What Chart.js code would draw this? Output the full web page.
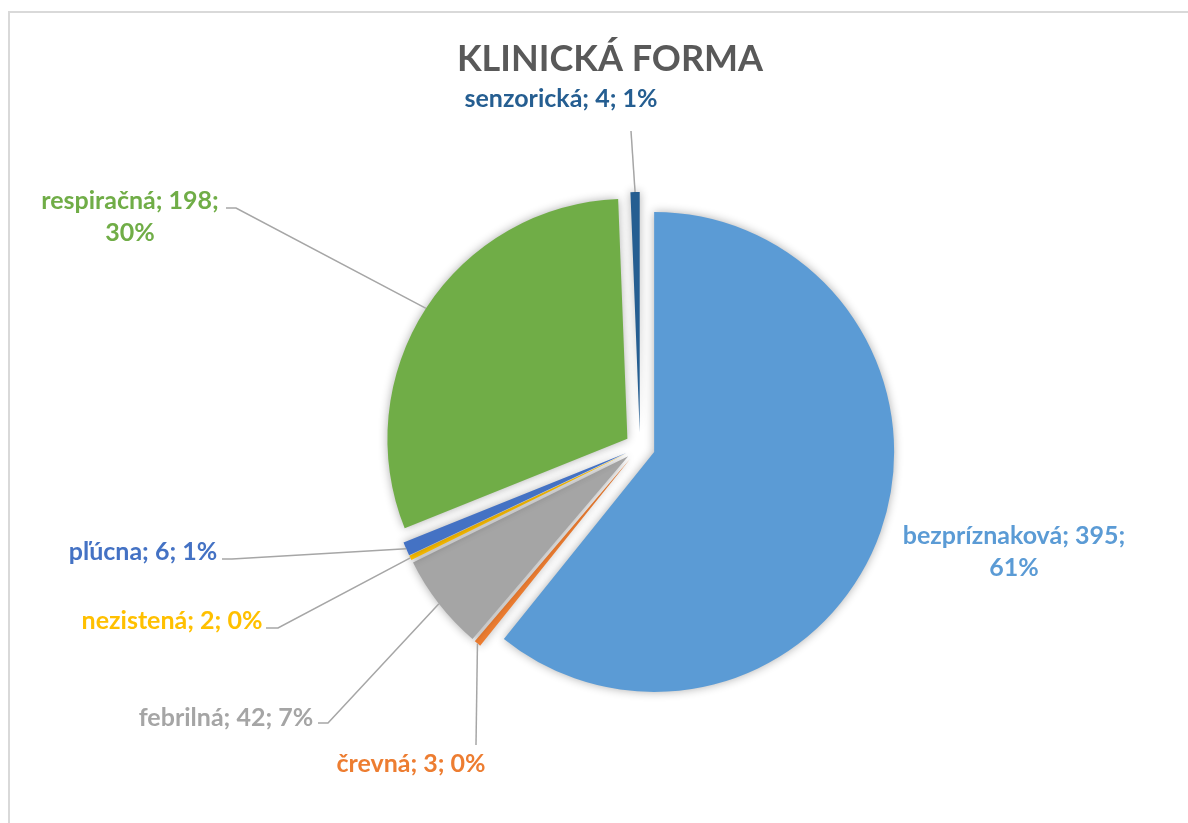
<!DOCTYPE html>
<html>
<head>
<meta charset="utf-8">
<script src="https://cdn.jsdelivr.net/npm/chart.js@4/dist/chart.umd.min.js"></script>
<style>
  body { margin: 0; background: #fff; }
  canvas { display: block; }
</style>
</head>
<body>
<canvas id="pieChart" width="1188" height="823"></canvas>
<script>
// data
const categories = ['bezpríznaková', 'črevná', 'febrilná', 'nezistená', 'pľúcna', 'respiračná', 'senzorická']
const counts = [395, 3, 42, 2, 6, 198, 4]
const percents = ['61%', '0%', '7%', '0%', '1%', '30%', '1%']
const colors = ['#5B9BD5', '#ED7D31', '#A5A5A5', '#FFC000', '#4472C4', '#70AD47', '#255E91']

// label placement: text centre (x, y of first line), split in two lines, leader start points
const labelLayout = [
  { x: 1014, y: 536, split: true, lead: null },
  { x: 411, y: 764, split: false, lead: [[476, 745]] },
  { x: 226, y: 718, split: false, lead: [[318, 723], [328, 723]] },
  { x: 172, y: 621, split: false, lead: [[266, 628], [278, 628]] },
  { x: 143, y: 552, split: false, lead: [[222, 559], [232, 559]] },
  { x: 130, y: 201, split: true, lead: [[226, 208], [236, 208]] },
  { x: 561, y: 99, split: false, lead: [[631, 131]] }
]

const FONT = 'Lato, "Open Sans", sans-serif'
const EXPLODE = 15

const decorPlugin = {
  id: 'decor',
  afterUpdate(chart) {
    // push every slice out along its bisector (like an exploded Excel pie)
    chart.getDatasetMeta(0).data.forEach(arc => {
      if (arc._exploded) return
      const draw = arc.draw
      arc.draw = function (ctx, area) {
        const mid = (this.startAngle + this.endAngle) / 2
        ctx.save()
        ctx.translate(Math.cos(mid) * EXPLODE, Math.sin(mid) * EXPLODE)
        draw.call(this, ctx, area)
        ctx.restore()
      }
      arc._exploded = true
    })
  },
  beforeDraw(chart) {
    const ctx = chart.ctx
    ctx.save()
    ctx.fillStyle = '#fff'
    ctx.fillRect(0, 0, chart.width, chart.height)
    ctx.strokeStyle = '#d9d9d9'
    ctx.lineWidth = 2
    ctx.strokeRect(9, 12, chart.width + 20, chart.height + 20)
    // title
    ctx.fillStyle = '#595959'
    ctx.font = 'bold 36px ' + FONT
    ctx.textAlign = 'center'
    ctx.textBaseline = 'middle'
    ctx.fillText('KLINICKÁ FORMA', 610, 59)
    ctx.restore()
  },
  beforeDatasetsDraw(chart) {
    const ctx = chart.ctx
    ctx.save()
    ctx.shadowColor = 'rgba(0,0,0,0.32)'
    ctx.shadowBlur = 10
  },
  afterDatasetsDraw(chart) {
    chart.ctx.restore()
  },
  afterDraw(chart) {
    const ctx = chart.ctx
    const arcs = chart.getDatasetMeta(0).data
    ctx.save()
    arcs.forEach((arc, i) => {
      const lay = labelLayout[i]
      const mid = (arc.startAngle + arc.endAngle) / 2
      const r = arc.outerRadius + EXPLODE
      const ex = arc.x + Math.cos(mid) * r
      const ey = arc.y + Math.sin(mid) * r
      if (lay.lead) {
        ctx.strokeStyle = '#a6a6a6'
        ctx.lineWidth = 1.5
        ctx.beginPath()
        ctx.moveTo(lay.lead[0][0], lay.lead[0][1])
        lay.lead.slice(1).forEach(p => ctx.lineTo(p[0], p[1]))
        ctx.lineTo(ex, ey)
        ctx.stroke()
      }
      const lines = lay.split
        ? [categories[i] + '; ' + counts[i] + ';', percents[i]]
        : [categories[i] + '; ' + counts[i] + '; ' + percents[i]]
      ctx.fillStyle = colors[i]
      ctx.font = 'bold 25px ' + FONT
      ctx.textAlign = 'center'
      ctx.textBaseline = 'middle'
      lines.forEach((t, k) => ctx.fillText(t, lay.x, lay.y + k * 32))
    })
    ctx.restore()
  }
}

new Chart(
  document.getElementById('pieChart'),
  {
    type: 'pie',
    data: {
      labels: categories,
      datasets: [
        {
          data: counts,
          backgroundColor: colors,
          borderWidth: 0,
          radius: 240
        }
      ]
    },
    options: {
      responsive: false,
      animation: false,
      layout: { padding: { left: 92, right: 0, top: 71, bottom: 0 } },
      plugins: {
        legend: { display: false },
        tooltip: { enabled: false },
        title: { display: false }
      }
    },
    plugins: [decorPlugin]
  }
)
</script>
</body>
</html>
